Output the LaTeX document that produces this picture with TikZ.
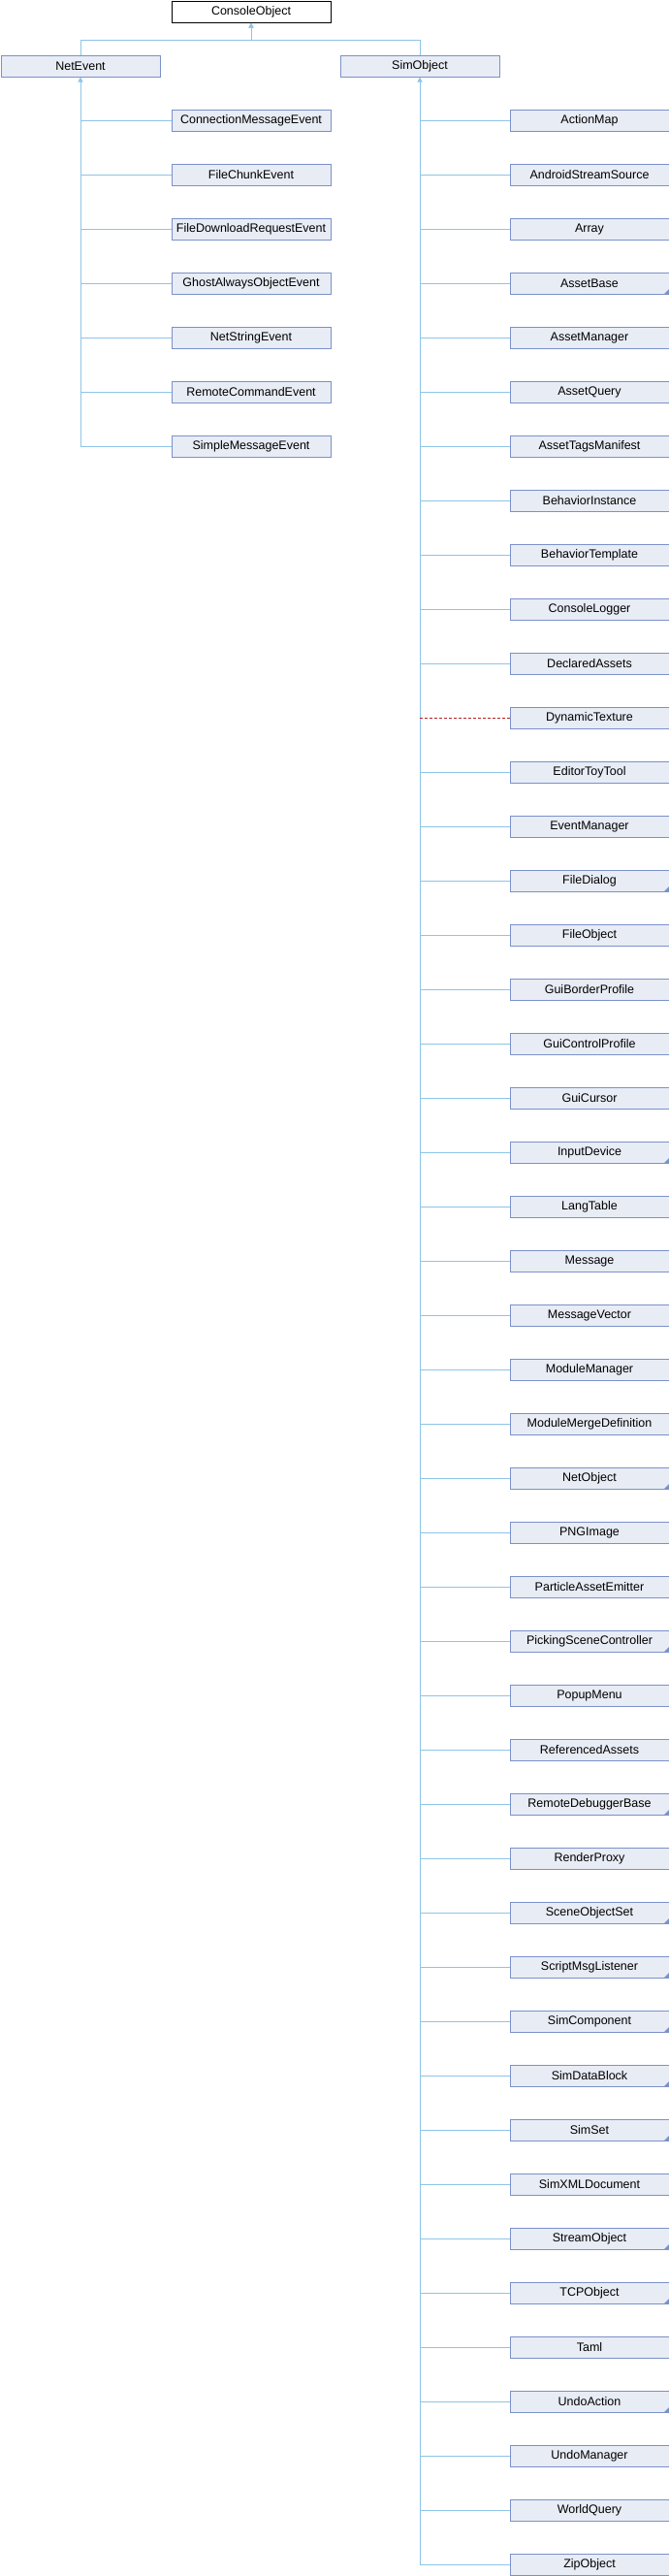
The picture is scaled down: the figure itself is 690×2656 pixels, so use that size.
\documentclass[tikz,border=0pt]{standalone}
\usepackage{fontspec}
\setmainfont{Liberation Sans}
\usetikzlibrary{arrows.meta}
\definecolor{boxfill}{HTML}{E8ECF5}
\definecolor{boxline}{HTML}{7B91C9}
\definecolor{edgecol}{HTML}{8DC5E8}
\definecolor{dashcol}{HTML}{B22222}
\begin{document}
\begin{tikzpicture}[x=1pt,y=-1pt,
  cls/.style={draw=boxline,fill=boxfill,line width=1pt,minimum width=164pt,minimum height=22pt,inner sep=0pt,anchor=north west,font=\fontsize{12.5}{14}\selectfont},
  root/.style={cls,draw=black,fill=white},
  edge/.style={draw=edgecol,line width=1pt},
  tipped/.style={{Triangle[length=5pt,width=5pt]}-},
  dep/.style={draw=dashcol,line width=1pt,dash pattern=on 3pt off 2pt},
  morecorner/.style={fill=boxline}]
\useasboundingbox (0,0) rectangle (690,2656);
\node[root] (cons) at (176.5,0.5) {ConsoleObject};
\node[cls] (net) at (0.5,56.5) {NetEvent};
\node[cls] (sim) at (350.5,56.5) {SimObject};
\foreach \name [count=\i from 0, evaluate=\i as \yy using 112.5+56*\i] in
  {ConnectionMessageEvent,FileChunkEvent,FileDownloadRequestEvent,GhostAlwaysObjectEvent,NetStringEvent,RemoteCommandEvent,SimpleMessageEvent}
  \node[cls] (n\i) at (176.5,\yy) {\name};
\foreach \name [count=\i from 0, evaluate=\i as \yy using 112.5+56*\i] in
  {ActionMap,AndroidStreamSource,Array,AssetBase,AssetManager,AssetQuery,AssetTagsManifest,BehaviorInstance,BehaviorTemplate,ConsoleLogger,DeclaredAssets,DynamicTexture,EditorToyTool,EventManager,FileDialog,FileObject,GuiBorderProfile,GuiControlProfile,GuiCursor,InputDevice,LangTable,Message,MessageVector,ModuleManager,ModuleMergeDefinition,NetObject,PNGImage,ParticleAssetEmitter,PickingSceneController,PopupMenu,ReferencedAssets,RemoteDebuggerBase,RenderProxy,SceneObjectSet,ScriptMsgListener,SimComponent,SimDataBlock,SimSet,SimXMLDocument,StreamObject,TCPObject,Taml,UndoAction,UndoManager,WorldQuery,ZipObject}
  \node[cls] (s\i) at (525.5,\yy) {\name};
\foreach \i in {3,14,19,25,28,31,33,34,35,36,37,39,40,42}
  \fill[morecorner] (s\i.south east) -- ++(-6,0) -- ++(6,-6) -- cycle;
% edges
\draw[edge,tipped] (cons.south) -- ++(0,18) -| (net.north);
\draw[edge,tipped] (cons.south) -- ++(0,18) -| (sim.north);
\draw[edge,tipped] (net.south) |- (n6.west);
\foreach \i in {0,...,5}
  \draw[edge] (n\i.west) -- (n\i.west -| net.south);
\draw[edge,tipped] (sim.south) |- (s45.west);
\foreach \i in {0,...,10,12,13,...,44}
  \draw[edge] (s\i.west) -- (s\i.west -| sim.south);
\draw[dep] (s11.west) -- (s11.west -| sim.south);
\end{tikzpicture}
\end{document}
